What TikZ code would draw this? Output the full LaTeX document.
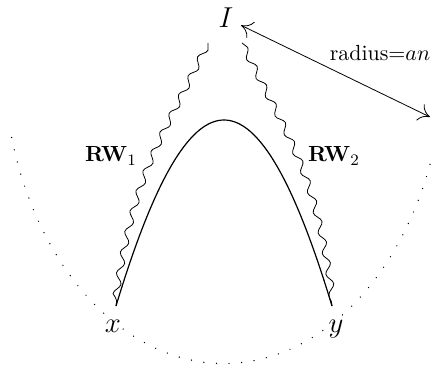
\documentclass[tikz,border=0pt,11pt]{standalone}
\usepackage{amsmath}
\usetikzlibrary{arrows.meta,decorations.pathmorphing}

\begin{document}
\begin{tikzpicture}[
  x=0.5pt, y=0.5pt,
  walk/.style={
    decorate, thin,
    decoration={snake, amplitude=1.6pt,
      segment length=10.5pt, post length=1pt}
  },
  rim/.style={
    line width=0.7pt, line cap=round,
    dash pattern=on 0pt off 6.3pt
  },
  arrow/.style={
    {To[length=5.5pt,width=9pt]}-{To[length=5.5pt,width=9pt]},
    thin},
  lbl/.style={font=\Large, anchor=base}
]
\useasboundingbox (0,0) rectangle (433,364);

% points
\node[font=\Large] (I) at (226,346) {$I$};
\coordinate (px) at (116,58);
\coordinate (py) at (332,58);
\coordinate (s1) at (208,321);
\coordinate (s2) at (242,321);
\coordinate (far) at (430,247);
\coordinate (ctr) at (224,312.5);

\node[lbl] (xl) at (113,32) {$x$};
\node[lbl] (yl) at (336,32) {$y$};

% random walks
\draw[walk] (s1) .. controls (156.5,216) and (135.7,194) .. (px);
\draw[walk] (s2) .. controls (293.5,216) and (314.3,194) .. (py);
\node (rw1) at (111,208) {$\mathbf{RW}_1$};
\node (rw2) at (334,208) {$\mathbf{RW}_2$};

% path between x and y
\draw[semithick] (px) .. controls (191,306) and (257,306) .. (py);

% radius
\draw[arrow] (I) -- (far);
\node (rad) at (380,311) {radius=$an$};

% boundary
\draw[rim] (ctr) ++(196:110.5pt and 156pt)
  arc[start angle=196, end angle=340,
      x radius=110.5pt, y radius=156pt];

\end{tikzpicture}
\end{document}
